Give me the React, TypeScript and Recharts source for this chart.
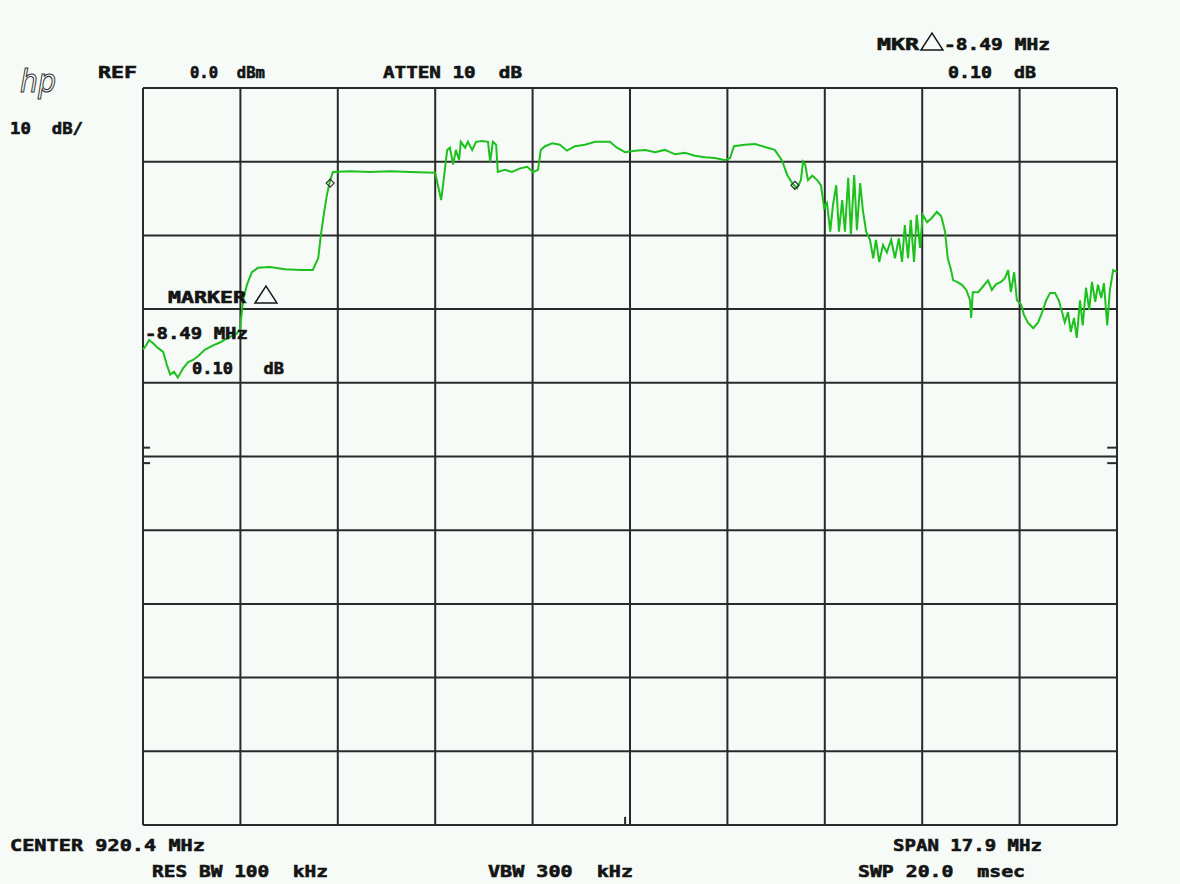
import React from 'react';
import { LineChart, Line, XAxis, YAxis, CartesianGrid, ReferenceDot, ReferenceLine } from 'recharts';

// sweep frequencies (MHz) and trace level (dBm)
const freqMHz = [
  911.45, 911.51, 911.56, 911.63, 911.73, 911.82, 911.89, 911.95, 912.02, 912.09,
  912.19, 912.28, 912.37, 912.46, 912.59, 912.72, 912.87, 913.01, 913.16, 913.23,
  913.29, 913.36, 913.45, 913.56, 913.78, 914.06, 914.34, 914.57, 914.67, 914.72,
  914.78, 914.83, 914.89, 914.94, 915.25, 915.62, 915.99, 916.36, 916.82, 916.87,
  916.93, 916.98, 917.04, 917.09, 917.15, 917.2, 917.26, 917.29, 917.37, 917.42,
  917.5, 917.57, 917.68, 917.79, 917.83, 917.88, 917.94, 917.97, 918.1, 918.23,
  918.38, 918.51, 918.62, 918.71, 918.76, 918.84, 918.97, 919.11, 919.24, 919.39,
  919.57, 919.76, 920.03, 920.16, 920.31, 920.49, 920.68, 920.86, 921.04, 921.23,
  921.41, 921.59, 921.78, 921.96, 922.15, 922.24, 922.31, 922.51, 922.7, 922.88,
  923.06, 923.19, 923.29, 923.38, 923.47, 923.54, 923.58, 923.62, 923.67, 923.75,
  923.84, 923.91, 923.97, 924.02, 924.08, 924.13, 924.19, 924.24, 924.3, 924.35,
  924.41, 924.46, 924.52, 924.57, 924.63, 924.68, 924.74, 924.81, 924.87, 924.92,
  924.98, 925.05, 925.12, 925.2, 925.27, 925.34, 925.4, 925.45, 925.51, 925.56,
  925.62, 925.67, 925.73, 925.78, 925.86, 925.95, 926.04, 926.12, 926.19, 926.24,
  926.3, 926.34, 926.41, 926.5, 926.58, 926.65, 926.67, 926.7, 926.8, 926.89,
  926.98, 927.05, 927.13, 927.22, 927.29, 927.35, 927.4, 927.46, 927.51, 927.59,
  927.64, 927.71, 927.81, 927.9, 927.97, 928.05, 928.12, 928.21, 928.28, 928.34,
  928.39, 928.45, 928.5, 928.56, 928.61, 928.67, 928.72, 928.78, 928.84, 928.89,
  928.95, 929.0, 929.06, 929.11, 929.17, 929.22, 929.28, 929.35,
];

const levelDbm = [
  -35.5, -34.9, -34.2, -34.6, -35.3, -35.8, -37.6, -38.9, -38.5, -39.3,
  -38.0, -37.2, -36.9, -36.4, -35.5, -35.0, -34.5, -33.9, -33.4, -32.8,
  -28.8, -26.7, -25.0, -24.4, -24.3, -24.6, -24.7, -24.7, -23.1, -19.9,
  -16.8, -14.5, -12.5, -11.4, -11.3, -11.4, -11.3, -11.4, -11.5, -13.2,
  -15.2, -12.2, -8.4, -8.1, -10.4, -8.4, -9.8, -7.3, -8.1, -7.3,
  -8.4, -7.3, -7.2, -7.3, -10.0, -7.3, -7.7, -11.4, -11.1, -11.4,
  -10.9, -10.7, -11.4, -11.1, -8.4, -7.9, -7.5, -7.7, -8.5, -7.9,
  -7.7, -7.3, -7.3, -8.1, -8.7, -8.5, -8.4, -8.7, -8.4, -9.0,
  -8.8, -9.2, -9.4, -9.5, -9.8, -9.5, -7.9, -7.7, -7.6, -8.0,
  -8.4, -9.8, -11.8, -12.9, -13.6, -12.5, -10.0, -10.4, -12.5, -11.9,
  -12.5, -13.2, -16.3, -15.6, -19.5, -15.9, -13.2, -19.5, -15.2, -19.5,
  -12.2, -19.9, -11.8, -19.3, -12.9, -16.6, -19.5, -20.6, -23.1, -20.6,
  -23.6, -21.3, -22.3, -20.6, -23.1, -20.4, -23.6, -18.6, -23.1, -17.9,
  -23.6, -17.2, -21.7, -17.2, -18.2, -17.6, -16.8, -17.4, -19.5, -23.1,
  -24.7, -26.1, -26.3, -26.7, -27.4, -28.8, -31.2, -27.7, -27.7, -26.9,
  -26.1, -27.4, -26.6, -26.3, -25.8, -24.7, -27.7, -25.0, -28.8, -29.4,
  -30.8, -31.8, -32.6, -31.8, -30.5, -28.8, -27.8, -27.8, -28.8, -30.4,
  -31.8, -30.4, -33.1, -31.2, -33.9, -28.8, -32.2, -27.1, -30.1, -26.3,
  -29.0, -26.7, -28.5, -26.5, -32.2, -27.4, -24.7, -25.0,
];

const freqTicks = [911.45, 913.24, 915.03, 916.82, 918.61, 920.4, 922.19, 923.98, 925.77, 927.56, 929.35];
const levelTicks = [-100, -90, -80, -70, -60, -50, -40, -30, -20, -10, 0];

const markers = [
  { f: 914.89, v: -12.9 },
  { f: 923.43, v: -13.2 },
];

const data = freqMHz.map((f, i) => ({ f, v: levelDbm[i] }));

const W = 1180;
const H = 884;
const INK = '#141414';
const FONT = '"DejaVu Sans Mono", monospace';

function Diamond(props: any) {
  const { cx, cy } = props;
  if (cx == null || cy == null) return null;
  return (
    <path
      d={`M${cx},${cy - 4} L${cx + 4},${cy} L${cx},${cy + 4} L${cx - 4},${cy} Z`}
      fill="none"
      stroke="#333"
      strokeWidth={1.2}
    />
  );
}

function T({ x, y, w, children }: { x: number; y: number; w: number; children: string }) {
  return (
    <text
      x={x}
      y={y}
      textLength={w}
      lengthAdjust="spacingAndGlyphs"
      fontFamily={FONT}
      fontWeight="bold"
      fontSize={16.5}
      fill={INK}
      stroke={INK}
      strokeWidth={0.6}
      style={{ whiteSpace: 'pre' }}
    >
      {children}
    </text>
  );
}

function Tri({ x, y }: { x: number; y: number }) {
  return <path d={`M${x},${y} L${x + 11},${y - 17} L${x + 22},${y} Z`} fill="none" stroke={INK} strokeWidth={1.4} />;
}

export default function App() {
  return (
    <div style={{ position: 'absolute', left: 0, top: 0, width: W, height: H, background: '#f6fbf7' }}>
      <LineChart width={W} height={H} data={data} margin={{ top: 88, right: 63, bottom: 59, left: 143 }}>
        <XAxis dataKey="f" type="number" domain={[911.45, 929.35]} ticks={freqTicks} hide />
        <YAxis type="number" domain={[-100, 0]} ticks={levelTicks} hide />
        <CartesianGrid stroke="#2a2a2a" strokeWidth={2} />
        <Line
          type="linear"
          dataKey="v"
          stroke="#1ec01e"
          strokeWidth={2}
          dot={false}
          isAnimationActive={false}
        />
        {markers.map((m, i) => (
          <ReferenceDot key={i} x={m.f} y={m.v} r={4} shape={Diamond} />
        ))}
        <ReferenceLine segment={[{ x: 911.45, y: -48.8 }, { x: 911.58, y: -48.8 }]} stroke="#2a2a2a" strokeWidth={2} />
        <ReferenceLine segment={[{ x: 911.45, y: -50.9 }, { x: 911.58, y: -50.9 }]} stroke="#2a2a2a" strokeWidth={2} />
        <ReferenceLine segment={[{ x: 929.17, y: -48.8 }, { x: 929.35, y: -48.8 }]} stroke="#2a2a2a" strokeWidth={2} />
        <ReferenceLine segment={[{ x: 929.17, y: -50.9 }, { x: 929.35, y: -50.9 }]} stroke="#2a2a2a" strokeWidth={2} />
        <ReferenceLine segment={[{ x: 920.31, y: -100 }, { x: 920.31, y: -98.9 }]} stroke="#2a2a2a" strokeWidth={2} />
      </LineChart>
      <svg
        width={W}
        height={H}
        style={{ position: 'absolute', left: 0, top: 0, pointerEvents: 'none' }}
      >
        <text x={20} y={92} fontFamily='"DejaVu Sans", sans-serif' fontStyle="italic" fontSize={32} fill="none" stroke="#333" strokeWidth={1.1} textLength={36} lengthAdjust="spacingAndGlyphs">hp</text>
        <T x={98} y={78} w={39}>REF</T>
        <T x={190} y={78} w={75}>0.0  dBm</T>
        <T x={383} y={78} w={139}>ATTEN 10  dB</T>
        <T x={10} y={134} w={73}>10  dB/</T>
        <T x={877} y={50} w={42}>MKR</T>
        <Tri x={921} y={50} />
        <T x={944} y={50} w={106}>-8.49 MHz</T>
        <T x={948} y={78} w={88}>0.10  dB</T>
        <T x={168} y={303} w={78}>MARKER</T>
        <Tri x={255} y={303} />
        <T x={145} y={339} w={103}>-8.49 MHz</T>
        <T x={192} y={374} w={92}>0.10   dB</T>
        <T x={10} y={851} w={195}>CENTER 920.4 MHz</T>
        <T x={152} y={877} w={176}>RES BW 100  kHz</T>
        <T x={488} y={877} w={145}>VBW 300  kHz</T>
        <T x={893} y={851} w={149}>SPAN 17.9 MHz</T>
        <T x={858} y={877} w={167}>SWP 20.0  msec</T>
      </svg>
    </div>
  );
}
